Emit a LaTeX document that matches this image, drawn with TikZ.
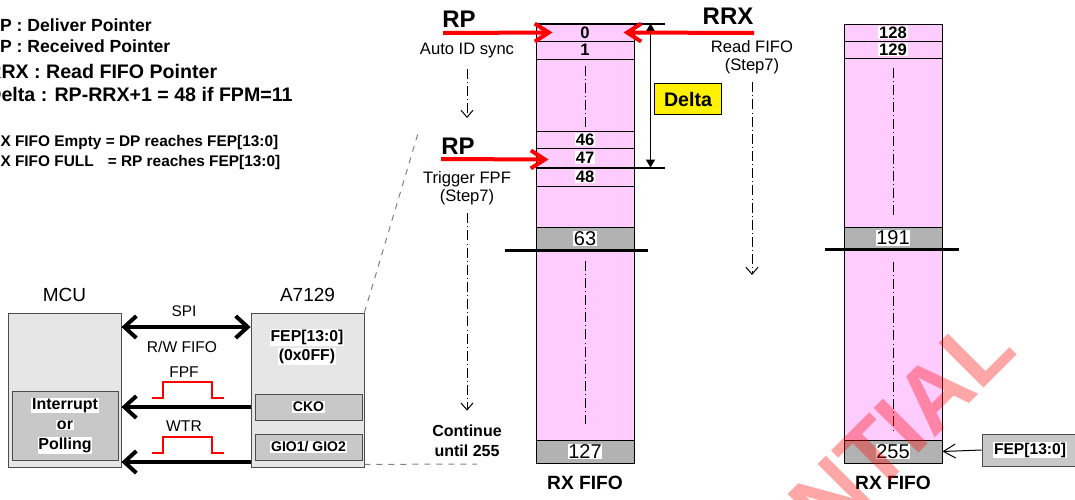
\documentclass[tikz,border=0pt]{standalone}
\usepackage{fontspec}
\setmainfont{Liberation Sans}
\usepackage{tikz}
\usetikzlibrary{arrows.meta,positioning,calc}
\definecolor{fifopink}{RGB}{255,204,255}
\definecolor{cellgrey}{RGB}{178,178,178}
\definecolor{chipgrey}{RGB}{230,230,230}
\definecolor{blockgrey}{RGB}{200,200,200}
\newcommand{\fsz}[2]{\fontsize{#1}{#2}\selectfont}
\newcommand{\whitebg}[1]{{\setlength{\fboxsep}{0.4pt}\colorbox{white}{#1}}}

\begin{document}
\begin{tikzpicture}[
    x=0.5pt, y=-0.5pt,
    cell/.style={draw=black, line width=0.5pt, fill=fifopink, minimum width=49pt, inner sep=0pt, font=\fsz{8.3}{9}\bfseries},
    grey cell/.style={cell, fill=cellgrey, font=\fsz{10}{11}},
    chip/.style={draw=black!70, fill=chipgrey, minimum width=56.5pt, minimum height=77pt, inner sep=0pt},
    block/.style={draw=black!70, fill=blockgrey, inner sep=0pt, font=\fsz{7}{8}\bfseries},
    note/.style={inner sep=0pt, align=center, font=\fsz{8.3}{9}},
    pointer/.style={inner sep=0pt, font=\fsz{12}{13}\bfseries},
    legend/.style={anchor=base west, inner sep=0pt, font=\bfseries},
    red arrow/.style={-{Straight Barb[length=7pt,width=9pt]}, red, line width=2pt},
    two way/.style={line width=2pt, {Straight Barb[length=6pt,width=11pt]}-{Straight Barb[length=6pt,width=11pt]}},
    one way/.style={line width=2pt, -{Straight Barb[length=6pt,width=11pt]}},
    dashdot/.style={line width=0.5pt, dash pattern=on 5pt off 1.6pt on 0.4pt off 1.6pt},
    flow/.style={dashdot, -{Straight Barb[length=3.5pt,width=6pt]}},
    pulse/.style={red, line width=0.6pt},
    leader/.style={gray, line width=0.5pt, dashed},
    delta arrow/.style={line width=0.8pt, {Triangle[length=4pt,width=4.5pt]}-{Triangle[length=4pt,width=4.5pt]}}
]
    \useasboundingbox (0,0) rectangle (1075,499);

    % Legend
    \node[legend, font=\fsz{8.8}{10}\bfseries] (lg1) at (-13,31) {DP : Deliver Pointer};
    \node[legend, font=\fsz{8.8}{10}\bfseries] (lg2) at (-13,52) {RP : Received Pointer};
    \node[legend, font=\fsz{9.8}{11}\bfseries] (lg3) at (-13,78) {RRX : Read FIFO Pointer};
    \node[legend, font=\fsz{9.8}{11}\bfseries] (lg4) at (-13,101) {Delta : RP-RRX+1 = 48 if FPM=11};
    \node[legend, font=\fsz{7.7}{9}\bfseries] (lg5) at (-11,146) {RX FIFO Empty = DP reaches FEP[13:0]};
    \node[legend, font=\fsz{7.7}{9}\bfseries] (lg6) at (-11,166) {RX FIFO FULL\hspace{7pt}= RP reaches FEP[13:0]};

    % RX FIFO 0..127
    \foreach \nm/\txt/\ya/\yb in {c0/0/24/41, c1/1/41/59, gapA/{}/59/131, c46/\whitebg{46}/131/148,
        c47/\whitebg{47}/148/167, c48/\whitebg{48}/167/186, gapB/{}/186/227, gapC/{}/250/440} {
        \pgfmathsetmacro\h{(\yb-\ya)*0.5}
        \node[cell, minimum height=\h pt] (\nm) at (585, {(\ya+\yb)/2}) {\txt};
    }
    \foreach \nm/\txt/\ya/\yb in {c63/63/227/250, c127/127/440/463} {
        \pgfmathsetmacro\h{(\yb-\ya)*0.5}
        \node[grey cell, minimum height=\h pt] (\nm) at (585, {(\ya+\yb)/2}) {\whitebg{\txt}};
    }
    \node[below=6pt of c127, inner sep=0pt, font=\fsz{9.6}{10}\bfseries] (fifoA) {RX FIFO};

    % RX FIFO 128..255
    \foreach \nm/\txt/\ya/\yb in {c128/128/24/41, c129/129/41/58, gapD/{}/58/227, gapE/{}/249/440} {
        \pgfmathsetmacro\h{(\yb-\ya)*0.5}
        \node[cell, minimum height=\h pt] (\nm) at (893, {(\ya+\yb)/2}) {\whitebg{\txt}};
    }
    \foreach \nm/\txt/\ya/\yb in {c191/191/227/249, c255/255/440/463} {
        \pgfmathsetmacro\h{(\yb-\ya)*0.5}
        \node[grey cell, minimum height=\h pt] (\nm) at (893, {(\ya+\yb)/2}) {\whitebg{\txt}};
    }
    \node[below=6pt of c255, inner sep=0pt, font=\fsz{9.6}{10}\bfseries] (fifoB) {RX FIFO};

    % skipped entries
    \foreach \g/\a/\b in {gapA/3.5/2, gapC/5.5/8.5, gapD/5/6, gapE/6.5/5} {
        \draw[dashdot] ([yshift=-\a pt]\g.north) -- ([yshift=\b pt]\g.south);
    }
    \draw[line width=1.2pt] ([xshift=-15.5pt]c63.south west) -- ([xshift=6.5pt]c63.south east);
    \draw[line width=1.2pt] ([xshift=-9.5pt]c191.south west) -- ([xshift=8pt]c191.south east);

    % Delta
    \draw[line width=1pt] (c0.north west) -- ([xshift=15pt]c0.north east);
    \draw[line width=1pt] (c47.south west) -- ([xshift=15pt]c47.south east);
    \draw[delta arrow] ([xshift=8pt]c0.north east) -- ([xshift=8pt]c47.south east);
    \node[draw=black, fill=yellow, minimum width=33.5pt, minimum height=15.5pt, inner sep=0pt,
        font=\fsz{9.8}{10}\bfseries] (delta) at (688,99) {Delta};

    % Pointers
    \node[pointer] (rpA) at (459,19) {RP};
    \node[pointer] (rpB) at (458,146) {RP};
    \node[pointer] (rrx) at (728,16) {RRX};
    \coordinate (rpAin) at (443,33);
    \coordinate (rpBin) at (441,159);
    \coordinate (rrxin) at (754,33);
    \draw[red arrow] (rpAin) -- ([xshift=8.5pt]c0.west);
    \draw[red arrow] (rpBin) -- ([xshift=6.5pt,yshift=-1pt]c47.west);
    \draw[red arrow] (rrxin) -- ([xshift=-5.5pt]c0.east);

    % Steps
    \node[note] (sync) at (467,51) {Auto ID sync};
    \node[note] (trig) at (467,188) {Trigger FPF\\(Step7)};
    \node[note, font=\fsz{8}{10}\bfseries] (cont) at (467,441) {Continue\\until 255};
    \node[note] (rdfifo) at (752,57) {Read FIFO\\(Step7)};
    \coordinate (syncend) at (467,118);
    \coordinate (rdend) at (752,275);
    \draw[flow] ([yshift=-5pt]sync.south) -- (syncend);
    \draw[flow, shorten >=7pt] ([yshift=-4pt]trig.south) -- (cont.north);
    \draw[flow] ([yshift=-4pt]rdfifo.south) -- (rdend);

    % FEP end pointer
    \node[block, font=\fsz{7.8}{9}\bfseries, minimum width=48pt, minimum height=16pt] (fepbox) at (1030,450) {\whitebg{FEP[13:0]}};
    \draw[line width=0.5pt, -{Straight Barb[length=6pt,width=7pt]}] (fepbox.west) -- (c255.east);

    % MCU and A7129
    \node[chip] (mcu) at (64.5,390) {};
    \node[chip] (a7129) at (307.5,390) {};
    \node[above=5.5pt of mcu, inner sep=0pt, font=\fsz{9.5}{10}] (mcut) {MCU};
    \node[above=5.5pt of a7129, inner sep=0pt, font=\fsz{9.5}{10}] (a7129t) {A7129};
    \node[block, minimum width=53pt, minimum height=34.5pt, align=center, font=\fsz{8}{10}\bfseries] (poll) at (65,425.5)
        {\whitebg{Interrupt}\\\whitebg{or}\\\whitebg{Polling}};
    \node[inner sep=0pt, align=center, font=\fsz{7.9}{9.5}\bfseries] (fep) at (307,347) {\whitebg{FEP[13:0]}\\\whitebg{(0x0FF)}};
    \node[block, minimum width=53.5pt, minimum height=13pt] (cko) at (308.5,407) {\whitebg{CKO}};
    \node[block, minimum width=53.5pt, minimum height=13pt] (gio) at (308.5,447) {\whitebg{GIO1/ GIO2}};

    % Interface
    \draw[two way] ([yshift=31.5pt]mcu.east) -- ([yshift=31.5pt]a7129.west);
    \draw[one way] (cko.west -| a7129.west) -- (cko.west -| mcu.east);
    \draw[one way] ([yshift=-36pt]a7129.west) -- ([yshift=-36pt]mcu.east);
    \node[note, font=\fsz{7.7}{9}] (spi) at (184,311) {SPI};
    \node[note, font=\fsz{7.8}{9}] (rw) at (182,347) {R/W FIFO};
    \node[note, font=\fsz{7.8}{9}] (fpf) at (184,372) {FPF};
    \node[note, font=\fsz{7.8}{9}] (wtr) at (184,426) {WTR};
    \foreach \yb in {398,453} {
        \draw[pulse] (152,\yb) -- ++(11,0) -- ++(0,-16) -- ++(49,0) -- ++(0,16) -- ++(12,0);
    }

    % Zoom leaders
    \coordinate (ldtop) at (419,130);
    \coordinate (ldbot) at (477,464);
    \draw[leader] (a7129.north east) -- (ldtop);
    \draw[leader] ([yshift=1.5pt]a7129.south east) -- (ldbot);

    % Watermark
    \node[rotate=45, anchor=base east, inner sep=0pt, text=red, opacity=0.35, font=\fsz{46}{46}\bfseries] (mark) at (1020,352) {CONFIDENTIAL};
\end{tikzpicture}
\end{document}
